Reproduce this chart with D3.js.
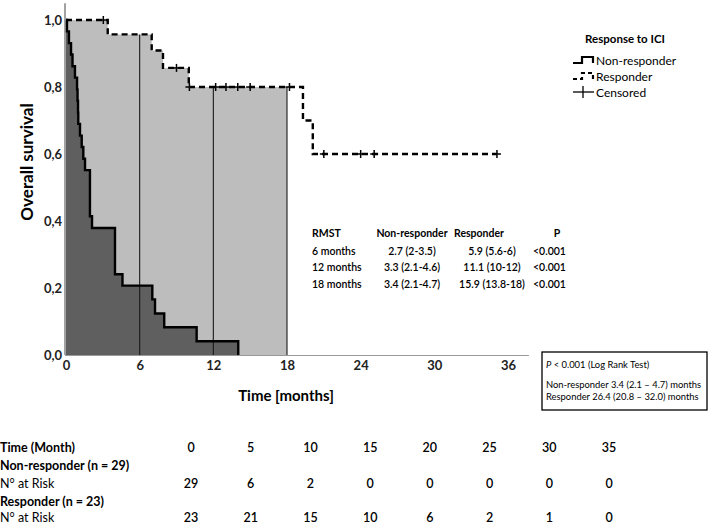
<!DOCTYPE html>
<html><head><meta charset="utf-8">
<script src="https://cdn.jsdelivr.net/npm/d3@7"></script>
<style>
body{margin:0;background:#fff;}
svg{display:block;font-family:Lato,"Open Sans",sans-serif;}
</style></head><body>
<svg id="c" width="709" height="525"></svg>
<script>
// ---- data ----
const nonRespTimes = [0, 0.08, 0.24, 0.41, 0.53, 0.73, 0.90, 0.94, 0.98, 1.00, 1.14, 1.28, 1.41, 1.55, 1.95, 2.12, 3.99, 4.60, 7.03, 7.25, 8.00, 10.64, 14.03];
const nonRespSurv  = [1.000, 0.966, 0.931, 0.897, 0.862, 0.828, 0.793, 0.759, 0.724, 0.690, 0.655, 0.621, 0.586, 0.552, 0.414, 0.379, 0.241, 0.207, 0.166, 0.124, 0.083, 0.041, 0.000];
const respTimes = [0, 3.40, 6.98, 7.90, 10.00, 19.30, 20.10, 35.10];
const respSurv  = [1.000, 0.957, 0.909, 0.857, 0.800, 0.700, 0.600, 0.600];
const respCensorTimes = [3.04, 9.00, 10.05, 12.19, 13.03, 13.99, 15.00, 18.20, 21.00, 24.00, 25.10, 35.10];
const rmstCutoffs = [6, 12, 18];
const xTicks = [0, 6, 12, 18, 24, 30, 36];
const yTicks = [0, 0.2, 0.4, 0.6, 0.8, 1.0];
const rmstHeader = ["RMST", "Non-responder", "Responder", "P"];
const rmstRows = [
  ["6 months", "2.7 (2-3.5)", "5.9 (5.6-6)", "<0.001"],
  ["12 months", "3.3 (2.1-4.6)", "11.1 (10-12)", "<0.001"],
  ["18 months", "3.4 (2.1-4.7)", "15.9 (13.8-18)", "<0.001"]
];
const legendLabels = ["Non-responder", "Responder", "Censored"];
const riskTimes = [0, 5, 10, 15, 20, 25, 30, 35];
const riskNonResp = [29, 6, 2, 0, 0, 0, 0, 0];
const riskResp = [23, 21, 15, 10, 6, 2, 1, 0];

// ---- scales ----
const svg = d3.select("#c");
const x = d3.scaleLinear().domain([0, 36]).range([66, 508]);
const y = d3.scaleLinear().domain([0, 1]).range([355, 20]);

const nonResp = nonRespTimes.map((t, i) => ({t, s: nonRespSurv[i]}));
const resp = respTimes.map((t, i) => ({t, s: respSurv[i]}));
const survAt = (data, t) => { let s = 1; data.forEach(d => { if (d.t <= t) s = d.s; }); return s; };

// shaded areas
const area = d3.area().curve(d3.curveStepAfter).x(d => x(d.t)).y0(y(0)).y1(d => y(d.s));
const respShade = resp.filter(d => d.t <= 18).concat([{t: 18, s: survAt(resp, 18)}]);
svg.append("path").attr("d", area(respShade)).attr("fill", "#bdbdbd");
svg.append("path").attr("d", area(nonResp)).attr("fill", "#5f5f5f");

// RMST vertical lines
svg.selectAll("line.rm").data(rmstCutoffs).join("line")
  .attr("x1", d => x(d)).attr("x2", d => x(d))
  .attr("y1", y(0)).attr("y2", d => y(survAt(resp, d)))
  .attr("stroke", "#1a1a1a").attr("stroke-width", 1.1);

// axes
svg.append("line").attr("x1", x(0) - 1).attr("x2", x(0) - 1).attr("y1", y(1.05)).attr("y2", y(0))
  .attr("stroke", "#444").attr("stroke-width", 1);
svg.append("line").attr("x1", x(0) - 1).attr("x2", x(37.7)).attr("y1", y(0) + 0.5).attr("y2", y(0) + 0.5)
  .attr("stroke", "#999").attr("stroke-width", 1);

const yAxis = d3.axisLeft(y).tickValues(yTicks).tickSize(0).tickPadding(0)
  .tickFormat(d => d3.format(".1f")(d).replace(".", ","));
const ga = svg.append("g").attr("transform", "translate(62,0)").call(yAxis);
ga.select(".domain").remove();
ga.selectAll("text").attr("font-size", 13).attr("font-weight", "bold").attr("fill", "#222")
  .attr("font-family", "Lato,sans-serif");

const xAxis = d3.axisBottom(x).tickValues(xTicks).tickSize(0).tickPadding(0);
const gx = svg.append("g").attr("transform", "translate(0,361)").call(xAxis);
gx.select(".domain").remove();
gx.selectAll("text").attr("font-size", 13).attr("font-weight", "bold").attr("fill", "#222")
  .attr("font-family", "Lato,sans-serif");

// curves
const line = d3.line().curve(d3.curveStepAfter).x(d => x(d.t)).y(d => y(d.s));
svg.append("path").attr("d", line(nonResp)).attr("fill", "none").attr("stroke", "#000").attr("stroke-width", 2.4);
svg.append("path").attr("d", line(resp)).attr("fill", "none").attr("stroke", "#000").attr("stroke-width", 2.4)
  .attr("stroke-dasharray", "6,4");

// censor marks
const cg = svg.append("g");
respCensorTimes.forEach(t => {
  const cx = x(t), cy = y(survAt(resp, t));
  cg.append("line").attr("x1", cx - 4).attr("x2", cx + 4).attr("y1", cy).attr("y2", cy).attr("stroke", "#000").attr("stroke-width", 1.5);
  cg.append("line").attr("x1", cx).attr("x2", cx).attr("y1", cy - 4).attr("y2", cy + 4).attr("stroke", "#000").attr("stroke-width", 1.5);
});

// axis titles
svg.append("text").attr("x", 286).attr("y", 395).attr("text-anchor", "middle").attr("dominant-baseline", "central")
  .attr("font-size", 15).attr("font-weight", "bold").text("Time [months]");
svg.append("text").attr("transform", "translate(26,162) rotate(-90)").attr("text-anchor", "middle")
  .attr("dominant-baseline", "central").attr("font-size", 17).attr("font-weight", "bold").text("Overall survival");

// legend
const lg = svg.append("g");
lg.append("text").attr("x", 625).attr("y", 38).attr("text-anchor", "middle").attr("dominant-baseline", "central")
  .attr("font-size", 11.5).attr("font-weight", "bold").text("Response to ICI");
const ly = [60, 76, 92];
lg.append("path").attr("d", `M573,${ly[0]+3}H582V${ly[0]-3}H593V${ly[0]+3}`).attr("fill", "none").attr("stroke", "#000").attr("stroke-width", 2.2);
lg.append("path").attr("d", `M573,${ly[1]+3}H582V${ly[1]-3}H593V${ly[1]+3}`).attr("fill", "none").attr("stroke", "#000").attr("stroke-width", 2.2).attr("stroke-dasharray", "4,3");
lg.append("line").attr("x1", 573).attr("x2", 594).attr("y1", ly[2]).attr("y2", ly[2]).attr("stroke", "#000").attr("stroke-width", 1.3);
lg.append("line").attr("x1", 583).attr("x2", 583).attr("y1", ly[2] - 6).attr("y2", ly[2] + 6).attr("stroke", "#000").attr("stroke-width", 1.3);
legendLabels.forEach((l, i) => {
  lg.append("text").attr("x", 596).attr("y", ly[i]).attr("dominant-baseline", "central").attr("font-size", 12).text(l);
});

// RMST table
const tg = svg.append("g").attr("font-size", 10.5);
const colX = [312, 412, 479, 557];
const colAnchor = ["start", "middle", "middle", "middle"];
rmstHeader.forEach((h, i) => {
  tg.append("text").attr("x", colX[i]).attr("y", 233).attr("text-anchor", colAnchor[i]).attr("dominant-baseline", "central")
    .attr("font-weight", "bold").text(h);
});
const rowX = [312, 412, 492, 533];
const rowAnchor = ["start", "middle", "middle", "start"];
rmstRows.forEach((r, j) => {
  r.forEach((c, i) => {
    tg.append("text").attr("x", rowX[i]).attr("y", 251 + j * 16.4).attr("text-anchor", rowAnchor[i])
      .attr("dominant-baseline", "central").attr("font-weight", 600).text(c);
  });
});

// log-rank box
const bg = svg.append("g").attr("font-size", 9.4);
bg.append("rect").attr("x", 542).attr("y", 352).attr("width", 165).attr("height", 58).attr("fill", "#fff").attr("stroke", "#000").attr("stroke-width", 1.3);
const t1 = bg.append("text").attr("x", 546).attr("y", 363.5).attr("dominant-baseline", "central");
t1.append("tspan").attr("font-style", "italic").text("P");
t1.append("tspan").text(" < 0.001 (Log Rank Test)");
bg.append("text").attr("x", 546).attr("y", 384).attr("dominant-baseline", "central").text("Non-responder 3.4 (2.1 – 4.7) months");
bg.append("text").attr("x", 546).attr("y", 396).attr("dominant-baseline", "central").text("Responder 26.4 (20.8 – 32.0) months");

// risk table
const rg = svg.append("g").attr("font-size", 12.5);
const rx = d3.scalePoint().domain(riskTimes).range([191, 609]);
const rowsY = [447, 465, 483, 501, 517];
const labels = [["Time (Month)", true], ["Non-responder (n = 29)", true], ["N° at Risk", false], ["Responder (n = 23)", true], ["N° at Risk", false]];
labels.forEach((l, i) => {
  rg.append("text").attr("x", 0).attr("y", rowsY[i]).attr("dominant-baseline", "central")
    .attr("font-weight", l[1] ? "bold" : "normal").text(l[0]);
});
[[riskTimes, 0], [riskNonResp, 2], [riskResp, 4]].forEach(([vals, r]) => {
  vals.forEach((v, i) => {
    rg.append("text").attr("x", rx(riskTimes[i])).attr("y", rowsY[r]).attr("text-anchor", "middle")
      .attr("dominant-baseline", "central").attr("font-weight", 600).text(v);
  });
});
</script>
</body></html>
